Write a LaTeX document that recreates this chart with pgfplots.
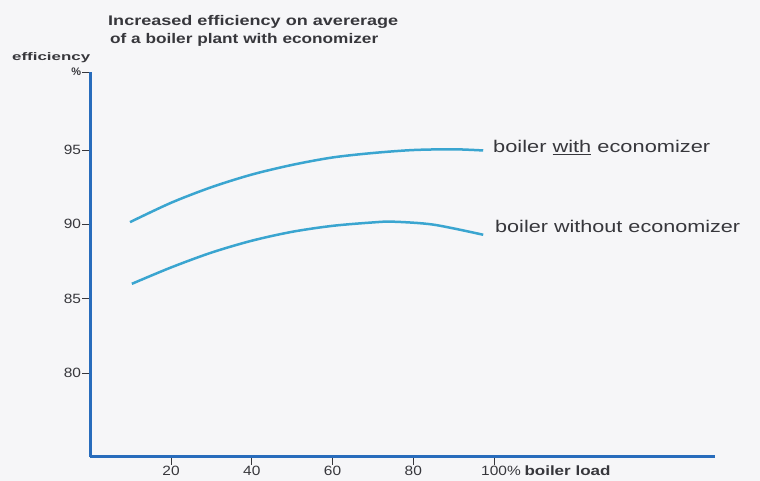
\documentclass[border=0pt]{standalone}
\usepackage{pgfplots}
\pgfplotsset{compat=1.18}
\usepackage{fontspec}
\setmainfont{Liberation Sans}
\usepackage{graphicx}
\definecolor{axisblue}{RGB}{40,108,188}
\definecolor{curve}{RGB}{58,165,208}
\definecolor{txt}{RGB}{55,55,60}
\definecolor{bg}{RGB}{246,246,248}
\newcommand\sx[1]{\scalebox{1.15}[1]{#1}}
\newcommand\fitw[2]{\resizebox{#1}{\height}{#2}}
\pgfplotstableread{
load eff
9.85 90.15
20 91.45
30 92.50
40 93.35
50 94.00
60 94.50
70 94.80
80 95.00
90 95.05
97.3 94.97
}\withecon
\pgfplotstableread{
load eff
10.3 86.00
20 87.10
30 88.10
40 88.90
50 89.50
60 89.90
70 90.13
75 90.18
85 89.98
97.3 89.30
}\withoutecon
\begin{document}
\begin{tikzpicture}[x=1bp,y=1bp]
\fill[bg] (0,0) rectangle (760,481);
\begin{axis}[
  at={(90.25bp,24bp)}, anchor=south west,
  scale only axis, width=624.75bp, height=385bp,
  xmin=0, xmax=154.7, ymin=74.35, ymax=100.25,
  axis x line*=bottom, axis y line*=left,
  axis line style={draw=axisblue, line width=3bp, -},
  tick align=outside,
  major tick length=8bp,
  tick style={draw=txt, line width=0.8bp},
  xtick={20,40,60,80,100},
  xticklabels={\sx{20},\sx{40},\sx{60},\sx{80},{\sx{100}\rlap{\sx{\%}\ \fitw{86bp}{\bfseries boiler load}}}},
  ytick={80,85,90,95,100.25},
  yticklabels={\sx{80},\sx{85},\sx{90},\sx{95},{\bfseries\fontsize{11}{12}\selectfont\%}},
  ticklabel style={font=\fontsize{13.5}{15}\selectfont, text=txt, inner sep=1bp},
  clip=false,
]
\addplot[curve, line width=2.5bp, smooth] table[x=load,y=eff] {\withecon};
\addplot[curve, line width=2.5bp, smooth] table[x=load,y=eff] {\withoutecon};
\end{axis}
\begin{scope}[every node/.style={text=txt, inner sep=0pt}]
\node[anchor=base west] at (108,455) {\fitw{290bp}{\fontsize{14}{16}\selectfont\bfseries Increased efficiency on avererage}};
\node[anchor=base west] at (110,437) {\fitw{268bp}{\fontsize{14}{16}\selectfont\bfseries of a boiler plant with economizer}};
\node[anchor=base west] at (12,420) {\fitw{78bp}{\fontsize{11}{12}\selectfont\bfseries efficiency}};
\node[anchor=base west] at (493,328) {\fitw{217bp}{\fontsize{17}{19}\selectfont boiler \underline{with} economizer}};
\node[anchor=base west] at (495,248) {\fitw{245bp}{\fontsize{17}{19}\selectfont boiler without economizer}};
\end{scope}
\end{tikzpicture}
\end{document}
